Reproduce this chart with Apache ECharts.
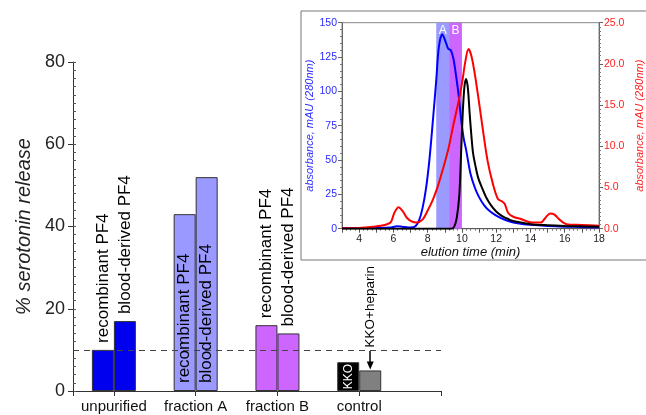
<!DOCTYPE html>
<html>
<head>
<meta charset="utf-8">
<script src="https://cdn.jsdelivr.net/npm/echarts@6/dist/echarts.min.js"></script>
<style>
  html, body { margin: 0; padding: 0; background: #fff; }
  #main { width: 646px; height: 415px; }
</style>
</head>
<body>
<div id="main"></div>
<script>
// main bar chart
var categories = ['unpurified', 'fraction A', 'fraction B', 'control'];
var recombinant = [10, 43, 16];
var bloodDerived = [17, 52, 14];
var controlNames = ['KKO', 'KKO+heparin'];
var controlValues = [7, 5];
var groupColors = ['#0000ee', '#9999ff', '#cc66ff'];
var controlColors = ['#000000', '#808080'];
var threshold = 10;

// inset chromatogram
var blueTime = [3, 4, 5, 5.8, 6.2, 6.5, 7.0, 7.3, 7.5, 7.7, 7.9, 8.1, 8.3, 8.5, 8.65, 8.85, 9.05, 9.2, 9.35, 9.5, 9.65, 9.8, 9.95, 10.1, 10.25, 10.5, 10.75, 11.0, 11.3, 11.6, 12.0, 12.5, 13.0, 13.5, 14, 15, 16, 17, 18];
var blueAbs = [0.5, 0.5, 0.6, 0.8, 1.8, 1.5, 0.8, 2, 6, 15, 29, 50, 78, 108, 132, 141.5, 136, 131, 130, 124, 112, 98, 80, 66, 57, 40, 30, 23, 17, 13, 9.5, 6.5, 4.5, 3.5, 2.8, 2, 1.5, 1.2, 1];
var blackTime = [3, 9.4, 9.55, 9.7, 9.85, 9.95, 10.05, 10.15, 10.25, 10.35, 10.45, 10.55, 10.65, 10.8, 10.95, 11.2, 11.45, 11.7, 12.0, 12.3, 12.6, 12.7, 12.8, 13.2, 14, 15, 16, 17, 18];
var blackAbs = [0, 0, 1.5, 8, 25, 55, 85, 104, 109, 102, 84, 68, 55, 45, 37, 29, 22, 17, 12.5, 9.5, 7.5, 7.2, 6.3, 5, 3.3, 2.5, 2, 1.7, 1.5];
var redTime = [3, 4, 4.8, 5.5, 5.85, 6.05, 6.3, 6.55, 6.8, 7.1, 7.35, 7.7, 8.0, 8.3, 8.6, 8.9, 9.2, 9.5, 9.8, 10.0, 10.2, 10.38, 10.55, 10.75, 11.0, 11.25, 11.5, 11.8, 12.1, 12.35, 12.5, 12.7, 13.0, 13.4, 14.1, 14.6, 14.9, 15.15, 15.4, 15.7, 16.1, 17, 18];
var redAbs = [0.05, 0.1, 0.25, 0.45, 0.8, 1.9, 2.6, 2.1, 1.3, 0.85, 0.75, 1.1, 2.2, 3.5, 5.2, 7.3, 9.6, 12.6, 15.4, 17.6, 20.3, 21.8, 21, 18.8, 15.3, 11.6, 8.2, 5.5, 3.6, 3.3, 3.0, 1.9, 1.45, 1.2, 0.75, 0.75, 1.4, 1.85, 1.7, 1.1, 0.55, 0.45, 0.35];
var fractionA = [8.5, 9.25];
var fractionB = [9.25, 10];
var elutionLabels = [4, 6, 8, 10, 12, 14, 16, 18];

function zip(xs, ys) {
    var out = [];
    for (var i = 0; i < xs.length; i++) out.push([xs[i], ys[i]]);
    return out;
}

var half = 0.1345;  // half a bar, in category units

function pf4Bar(x, y, color, text, inside) {
    return {
        value: [x, y],
        itemStyle: { color: color },
        label: {
            show: true, formatter: text,
            position: inside ? 'insideBottom' : 'top',
            distance: inside ? 8 : 7,
            rotate: 90, align: 'left', verticalAlign: 'middle',
            fontSize: 17, color: '#000'
        }
    };
}

var barItems = [];
for (var i = 0; i < recombinant.length; i++) {
    barItems.push(pf4Bar(i + 0.5 - half, recombinant[i], groupColors[i], 'recombinant PF4', i === 1));
    barItems.push(pf4Bar(i + 0.5 + half, bloodDerived[i], groupColors[i], 'blood-derived PF4', i === 1));
}
var ctrlX = categories.length - 0.5;
barItems.push({
    value: [ctrlX - half, controlValues[0]],
    itemStyle: { color: controlColors[0] },
    label: { show: true, formatter: controlNames[0], position: 'inside', rotate: 90, color: '#fff', fontSize: 12 }
});
barItems.push({
    value: [ctrlX + half, controlValues[1]],
    itemStyle: { color: controlColors[1] },
    label: {
        show: true, formatter: controlNames[1], position: 'top', distance: 23,
        rotate: 90, align: 'left', verticalAlign: 'middle', fontSize: 13.5, color: '#000'
    }
});

var myChart = echarts.init(document.getElementById('main'));

var option = {
    animation: false,
    textStyle: { fontFamily: 'Liberation Sans, Arial, sans-serif' },
    graphic: [{
        type: 'rect', silent: true,
        shape: { x: 301, y: 11, width: 360, height: 249 },
        style: { fill: 'none', stroke: '#777', lineWidth: 1 }
    }],
    grid: [
        { left: 73, right: 205, top: 62, bottom: 24 },
        { left: 342, right: 47, top: 22.7, bottom: 186.3, show: true, borderColor: '#888', borderWidth: 1, backgroundColor: 'transparent' }
    ],
    xAxis: [
        {
            gridIndex: 0, type: 'value', min: 0, max: 4.5,
            axisLine: { lineStyle: { color: '#333' } },
            axisTick: { show: true, customValues: [0, 0.5, 1.5, 2.5, 3.5, 4.5], length: 5, lineStyle: { color: '#333' } },
            axisLabel: {
                customValues: [0.5, 1.5, 2.5, 3.5],
                formatter: function (v) { return categories[Math.floor(v)]; },
                fontSize: 15, color: '#111', margin: 8
            },
            splitLine: { show: false }
        },
        {
            gridIndex: 1, type: 'value', min: 3, max: 18, interval: 1,
            name: 'elution time (min)', nameLocation: 'middle', nameGap: 16,
            nameTextStyle: { fontSize: 13, fontStyle: 'italic', color: '#111' },
            axisLine: { lineStyle: { color: '#555' } },
            axisTick: { length: 4, lineStyle: { color: '#555' } },
            minorTick: { show: true, splitNumber: 4, length: 2, lineStyle: { color: '#777' } },
            axisLabel: { customValues: elutionLabels, fontSize: 10.5, color: '#222', margin: 5 },
            splitLine: { show: false }
        }
    ],
    yAxis: [
        {
            gridIndex: 0, type: 'value', min: 0, max: 80, interval: 20,
            name: '% serotonin release', nameLocation: 'middle', nameGap: 38,
            nameTextStyle: { fontSize: 20, fontStyle: 'italic', color: '#222' },
            axisLine: { show: true, lineStyle: { color: '#333' } },
            axisTick: { show: true, length: 5, lineStyle: { color: '#333' } },
            axisLabel: { fontSize: 18, color: '#222', margin: 8 },
            splitLine: { show: false }
        },
        {
            // minor ticks, drawn inwards
            gridIndex: 0, type: 'value', min: 0, max: 80, interval: 2, position: 'left',
            axisLine: { show: false },
            axisTick: { show: true, inside: true, length: 3, lineStyle: { color: '#555' } },
            axisLabel: { show: false },
            splitLine: { show: false }
        },
        {
            gridIndex: 1, type: 'value', position: 'left', min: 0, max: 150, interval: 25,
            name: 'absorbance, mAU (280nm)', nameLocation: 'middle', nameGap: 27, nameRotate: 90,
            nameTextStyle: { fontSize: 11, fontStyle: 'italic', color: '#2b2bff' },
            axisLine: { show: true, lineStyle: { color: '#666' } },
            axisTick: { show: true, length: 4, lineStyle: { color: '#666' } },
            minorTick: { show: true, splitNumber: 5, length: 2, lineStyle: { color: '#777' } },
            axisLabel: { fontSize: 10.5, color: '#2b2bff', margin: 5 },
            splitLine: { show: false }
        },
        {
            gridIndex: 1, type: 'value', position: 'right', min: 0, max: 25, interval: 5,
            name: 'absorbance, mAU (280nm)', nameLocation: 'middle', nameGap: 35, nameRotate: 90,
            nameTextStyle: { fontSize: 11, fontStyle: 'italic', color: '#ff2020' },
            axisLine: { show: true, lineStyle: { color: '#666' } },
            axisTick: { show: true, length: 4, lineStyle: { color: '#666' } },
            minorTick: { show: true, splitNumber: 10, length: 2, lineStyle: { color: '#777' } },
            axisLabel: { fontSize: 10.5, color: '#ff2020', margin: 5, formatter: function (v) { return v.toFixed(1); } },
            splitLine: { show: false }
        }
    ],
    series: [
        {
            type: 'bar', xAxisIndex: 0, yAxisIndex: 0,
            barWidth: 22,
            itemStyle: { borderColor: '#333', borderWidth: 1 },
            data: barItems,
            markLine: {
                silent: true, symbol: 'none', label: { show: false },
                lineStyle: { color: '#444', width: 1, type: [6, 5] },
                data: [
                    { yAxis: threshold },
                    [
                        { coord: [ctrlX + half, 9.7], symbol: 'none', lineStyle: { type: 'solid', color: '#000', width: 1.5 } },
                        { coord: [ctrlX + half, 6.2], symbol: 'triangle', symbolSize: [7, 8] }
                    ]
                ]
            }
        },
        {
            name: 'blue', type: 'line', xAxisIndex: 1, yAxisIndex: 2,
            data: zip(blueTime, blueAbs), symbol: 'none', smooth: 0.3,
            lineStyle: { color: '#0000ff', width: 2 }, z: 3,
            markArea: {
                silent: true,
                label: { color: '#fff', fontSize: 12, position: 'insideTop', distance: 2 },
                data: [
                    [{ xAxis: fractionA[0], name: 'A', itemStyle: { color: '#9b9bff' } }, { xAxis: fractionA[1] }],
                    [{ xAxis: fractionB[0], name: 'B', itemStyle: { color: '#cc66ff' } }, { xAxis: fractionB[1] }]
                ]
            }
        },
        {
            name: 'red', type: 'line', xAxisIndex: 1, yAxisIndex: 3,
            data: zip(redTime, redAbs), symbol: 'none', smooth: 0.3,
            lineStyle: { color: '#ff0000', width: 2 }, z: 3
        },
        {
            name: 'black', type: 'line', xAxisIndex: 1, yAxisIndex: 2,
            data: zip(blackTime, blackAbs), symbol: 'none', smooth: 0.3,
            lineStyle: { color: '#000000', width: 2 }, z: 4
        }
    ]
};
myChart.setOption(option);
</script>
</body>
</html>
